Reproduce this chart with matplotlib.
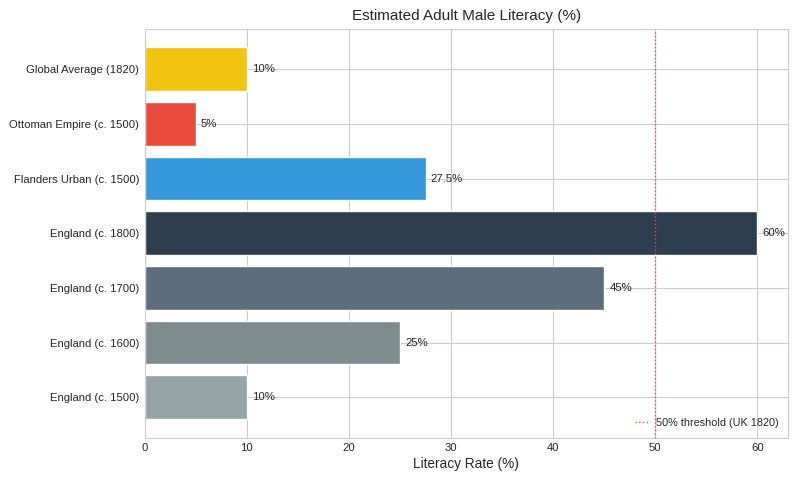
import matplotlib
matplotlib.use("Agg")
import matplotlib.pyplot as plt
import seaborn as sns

# data
regions = ["England (c. 1500)", "England (c. 1600)", "England (c. 1700)",
           "England (c. 1800)", "Flanders Urban (c. 1500)",
           "Ottoman Empire (c. 1500)", "Global Average (1820)"]
literacy = [10, 25, 45, 60, 27.5, 5, 10]
value_labels = ["10%", "25%", "45%", "60%", "27.5%", "5%", "10%"]
bar_colors = ["#95a5a6", "#7f8c8d", "#5d6d7e", "#2c3e50",
              "#3498db", "#e74c3c", "#f1c40f"]
threshold = 50

sns.set_style("whitegrid")
plt.rcParams['font.family'] = ['Liberation Sans', 'DejaVu Sans']

fig, ax = plt.subplots(figsize=(8, 4.8), dpi=100)
bars = ax.barh(regions, literacy, color=bar_colors, height=0.8)

for bar, lab in zip(bars, value_labels):
    ax.text(bar.get_width() + 0.5, bar.get_y() + bar.get_height() / 2, lab,
            va="center", ha="left", fontsize=8.2, color="#262626")

ax.axvline(threshold, color="#e74c3c", linestyle=":", linewidth=1,
           label="50% threshold (UK 1820)")

ax.set_xlabel("Literacy Rate (%)", fontsize=9.8, color="#262626", labelpad=3)
ax.set_title("Estimated Adult Male Literacy (%)", fontsize=11, color="#262626")
ax.tick_params(axis="both", labelsize=8.1, length=0, pad=4, colors="#262626")
ax.legend(loc="lower right", fontsize=7.8, frameon=False,
          handlelength=1.4, handletextpad=0.5)

plt.subplots_adjust(left=0.181, right=0.985, top=0.94, bottom=0.088)
plt.savefig("out.png", dpi=100)
